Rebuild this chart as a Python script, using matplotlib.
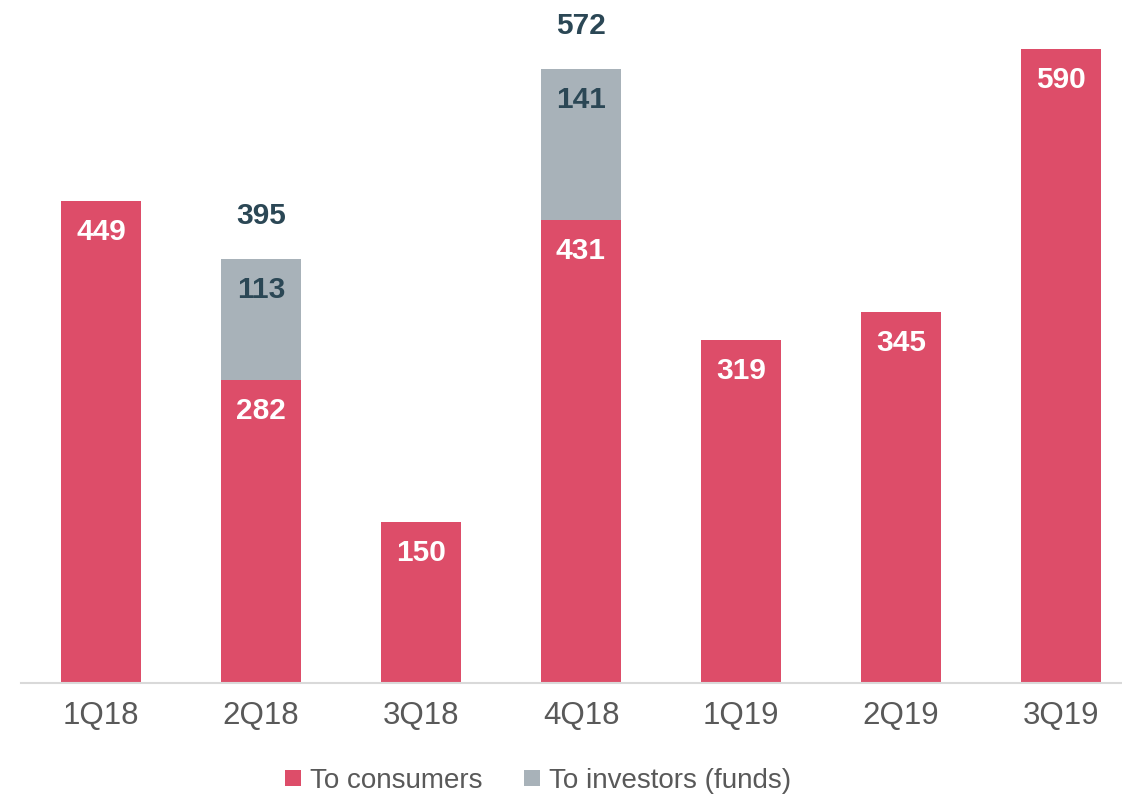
import matplotlib.pyplot as plt
from matplotlib.lines import Line2D

quarters = ["1Q18", "2Q18", "3Q18", "4Q18", "1Q19", "2Q19", "3Q19"]
to_consumers = [449, 282, 150, 431, 319, 345, 590]
to_investors = [0, 113, 0, 141, 0, 0, 0]

RED = "#DD4D69"
GREY = "#A8B2B9"
DARK = "#2B4755"
TICK = "#595959"

plt.rcParams['font.family'] = ['Liberation Sans', 'DejaVu Sans']

fig = plt.figure(figsize=(11.22, 7.95), dpi=100)
W, H = 1122, 795
ax = fig.add_axes([21 / W, 112 / H, 1101 / W, 666 / H])

x = list(range(len(quarters)))
ax.bar(x, to_consumers, width=0.5, color=RED)
ax.bar(x, to_investors, width=0.5, bottom=to_consumers, color=GREY)

for i, (c, f) in enumerate(zip(to_consumers, to_investors)):
    ax.annotate(str(c), (i, c), xytext=(0, -31), textcoords="offset pixels",
                ha="center", va="center", fontsize=21.5, fontweight="bold", color="white")
    if f:
        ax.annotate(str(f), (i, c + f), xytext=(0, -31), textcoords="offset pixels",
                    ha="center", va="center", fontsize=21.5, fontweight="bold", color=DARK)
        ax.annotate(str(c + f), (i, c + f), xytext=(0, 43), textcoords="offset pixels",
                    ha="center", va="center", fontsize=21.5, fontweight="bold", color=DARK)

ax.set_xlim(-0.5, -0.5 + 1101 / 160)
ax.set_ylim(0, 620)
ax.set_xticks(x)
ax.set_xticklabels(quarters, fontsize=22.5, color=TICK)
ax.tick_params(axis="x", length=0, pad=13)
ax.set_yticks([])
for s in ["top", "right", "left"]:
    ax.spines[s].set_visible(False)
ax.spines["bottom"].set_color("#D9D9D9")
ax.spines["bottom"].set_linewidth(1.5)

handles = [
    Line2D([], [], marker="s", linestyle="none", markersize=11, markeredgewidth=0, color=RED),
    Line2D([], [], marker="s", linestyle="none", markersize=11, markeredgewidth=0, color=GREY),
]
leg = fig.legend(handles, ["To consumers", "To investors (funds)"], loc="center",
                 bbox_to_anchor=(538 / W, 1 - 781 / H), ncol=2, frameon=False,
                 fontsize=20, handlelength=0.6, handletextpad=0.3, columnspacing=1.5,
                 borderpad=0)
for t in leg.get_texts():
    t.set_color(TICK)

fig.savefig("out.png", dpi=100)
